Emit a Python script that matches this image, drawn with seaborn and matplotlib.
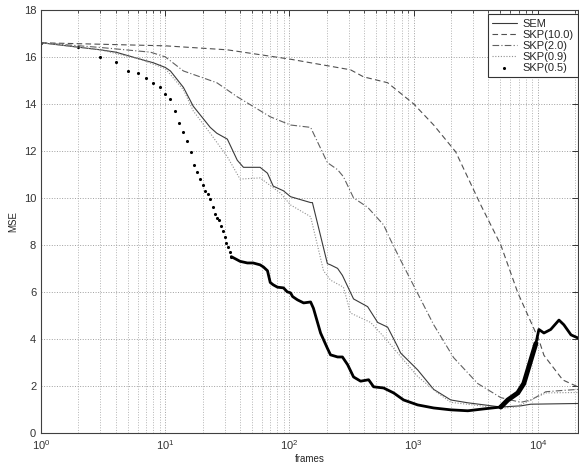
import matplotlib
matplotlib.use('Agg')
import matplotlib.pyplot as plt
import seaborn as sns
from matplotlib.ticker import LogLocator, NullFormatter

# SEM
sem_f = [1, 3, 4, 6.3, 8, 10, 11, 14, 16.8, 20, 23, 26, 31.6, 38, 42.6, 58, 66.5, 74, 89.5, 102,
         148, 153, 202, 214, 244, 267, 328, 426, 513, 617, 743, 785, 1077, 1450, 1990, 2730,
         5030, 7300, 8790, 21000]
sem_v = [16.6, 16.3, 16.2, 15.9, 15.75, 15.55, 15.4, 14.7, 13.9, 13.4, 13.0, 12.75, 12.5, 11.6, 11.3,
         11.3, 11.05, 10.5, 10.3, 10.05, 9.8, 9.8, 7.2, 7.15, 7.0, 6.7, 5.7, 5.37, 4.7, 4.5, 3.67,
         3.4, 2.68, 1.85, 1.4, 1.28, 1.1, 1.15, 1.22, 1.25]

# SKP(10.0)
k10_f = [1, 10, 31.6, 102, 214, 310, 395, 617, 1000, 1450, 2180, 3470, 5030, 6900, 10200, 11200,
         15900, 21000]
k10_v = [16.6, 16.47, 16.3, 15.9, 15.6, 15.45, 15.15, 14.9, 14.0, 13.1, 11.96, 9.7, 8.0, 5.96,
         3.96, 3.3, 2.25, 1.96]

# SKP(2.0)
k2_f = [1, 3, 7.6, 10, 14, 26, 38, 48.5, 70, 102, 148, 202, 244, 272, 328, 426, 573, 653, 785,
        1038, 1450, 2100, 3280, 5030, 7300, 8790, 11600, 15300, 21000]
k2_v = [16.6, 16.4, 16.2, 16.0, 15.4, 14.9, 14.3, 13.96, 13.45, 13.1, 13.0, 11.5, 11.2, 10.9,
        10.0, 9.6, 8.85, 8.2, 7.35, 6.1, 4.6, 3.2, 2.1, 1.5, 1.3, 1.4, 1.75, 1.8, 1.85]

# SKP(0.9)
k09_f = [1, 3, 6.3, 10, 14, 16.8, 23, 31.6, 40, 58, 84.6, 102, 148, 188, 214, 272, 310, 450, 573,
         743, 1077, 1560, 1990, 5030, 6650, 8790, 11600, 21000]
k09_v = [16.6, 16.3, 15.9, 15.5, 14.6, 13.7, 12.75, 11.75, 10.8, 10.85, 10.2, 9.7, 9.2, 6.9, 6.5,
         6.2, 5.1, 4.7, 4.1, 3.4, 2.4, 1.7, 1.3, 1.05, 1.1, 1.4, 1.7, 1.72]

# SKP(0.5): separate dots for the first frames, dense trace afterwards
k05_dot_f = list(range(1, 35))
k05_dot_v = [16.6, 16.4, 16.0, 15.8, 15.4, 15.3, 15.1, 14.9, 14.7, 14.4, 14.2, 13.7, 13.2, 12.8,
             12.4, 11.95, 11.4, 11.1, 10.8, 10.55, 10.3, 10.17, 9.96, 9.6, 9.3, 9.15, 9.06, 8.8,
             8.6, 8.35, 8.1, 7.9, 7.7, 7.5]
k05_f = [34, 40, 45.8, 51, 58, 61.7, 66.5, 70, 74, 80, 89.5, 96, 102, 106, 116, 130, 148, 156, 178,
         202, 214, 244, 267, 294, 328, 374, 434, 476, 573, 690, 830, 1077, 1450, 1990, 2730, 3670,
         5030, 5730, 6900, 7710, 8790, 9640, 10200, 11200, 12700, 14800, 16200, 18500, 21000]
k05_v = [7.5, 7.3, 7.23, 7.23, 7.15, 7.06, 6.9, 6.4, 6.3, 6.2, 6.17, 6.0, 5.96, 5.8, 5.66, 5.53,
         5.57, 5.3, 4.25, 3.6, 3.32, 3.23, 3.23, 2.9, 2.38, 2.2, 2.26, 1.96, 1.91, 1.7, 1.4, 1.19,
         1.06, 0.98, 0.94, 1.02, 1.1, 1.4, 1.7, 2.1, 3.1, 3.8, 4.4, 4.25, 4.4, 4.8, 4.6, 4.17, 4.04]

sns.set_style('white')
plt.rcParams['font.family'] = ['Liberation Sans', 'DejaVu Sans']

fig, ax = plt.subplots(figsize=(5.79, 4.70), dpi=100)
fig.subplots_adjust(left=0.071, right=0.998, top=0.979, bottom=0.079)

sns.lineplot(x=sem_f, y=sem_v, ax=ax, estimator=None, color='#3a3a3a', lw=0.8, label='SEM')
sns.lineplot(x=k10_f, y=k10_v, ax=ax, estimator=None, color='#505050', lw=0.8,
             linestyle=(0, (5, 3)), label='SKP(10.0)')
sns.lineplot(x=k2_f, y=k2_v, ax=ax, estimator=None, color='#606060', lw=0.8,
             linestyle=(0, (6, 2, 1, 2)), label='SKP(2.0)')
sns.lineplot(x=k09_f, y=k09_v, ax=ax, estimator=None, color='#909090', lw=0.8,
             linestyle=(0, (1, 1.5)), label='SKP(0.9)')
sns.scatterplot(x=k05_dot_f, y=k05_dot_v, ax=ax, color='black', s=5, marker='o',
                linewidth=0, label='SKP(0.5)')
sns.lineplot(x=k05_f, y=k05_v, ax=ax, estimator=None, color='black', lw=2.0)
# noisy, denser stretch where the trace rises again
sns.lineplot(x=k05_f[36:42], y=k05_v[36:42], ax=ax, estimator=None, color='black', lw=3.5)

ax.set_xscale('log')
ax.set_xlim(1, 21000)
ax.set_ylim(0, 18)
ax.set_yticks(range(0, 19, 2))
ax.xaxis.set_minor_locator(LogLocator(base=10, subs=range(2, 10), numticks=20))
ax.xaxis.set_minor_formatter(NullFormatter())

ax.grid(True, which='major', axis='both', linestyle=':', color='#a0a0a0', lw=0.7)
ax.grid(True, which='minor', axis='x', linestyle=':', color='#b4b4b4', lw=0.7)
ax.tick_params(which='both', direction='in', top=True, right=True, labelsize=8,
               colors='#333333')
ax.tick_params(which='major', length=4, width=0.7)
ax.tick_params(which='minor', length=2, width=0.6)
for s in ax.spines.values():
    s.set_color('#404040')
    s.set_linewidth(0.8)

ax.set_xlabel('frames', fontsize=7, labelpad=2)
ax.set_ylabel('MSE', fontsize=7, labelpad=4)

leg = ax.legend(loc='upper right', bbox_to_anchor=(1.0, 0.99), borderaxespad=0, fontsize=8,
                fancybox=False, framealpha=1, edgecolor='#333333', handlelength=2.2,
                handletextpad=0.5, labelspacing=0.1, borderpad=0.4)
leg.get_frame().set_linewidth(0.8)

fig.savefig('out.png', dpi=100)
